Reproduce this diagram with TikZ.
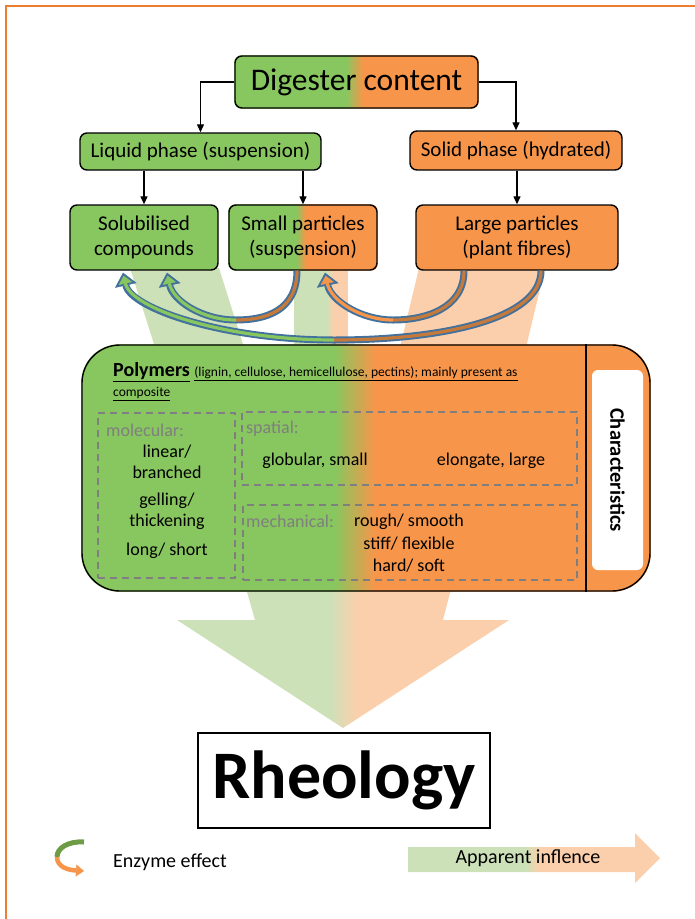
\documentclass[tikz,border=0pt]{standalone}
\usepackage{fontspec}
\setmainfont{Carlito}
\usetikzlibrary{arrows.meta,calc}
\pgfdeclarelayer{bands}
\pgfdeclarelayer{fills}
\pgfsetlayers{bands,fills,main}
\definecolor{gC}{HTML}{88C65F}
\definecolor{oC}{HTML}{F7964A}
\definecolor{lgC}{HTML}{CDE1B9}
\definecolor{lpC}{HTML}{FBCFAC}
\definecolor{blC}{HTML}{41719C}
\definecolor{brC}{HTML}{C5793A}
\definecolor{frC}{HTML}{ED7D31}
\definecolor{dashC}{HTML}{7F7F7F}
\definecolor{legG}{HTML}{6E9B45}
\newcommand\mygradfill[6]{%
  \begin{scope}
    \clip[rounded corners=#2] (#1.south west) rectangle (#1.north east);
    \fill[#5] (0,0) rectangle (#3,919);
    \shade[left color=#5,right color=#6] (#3,0) rectangle (#4,919);
    \fill[#6] (#4,0) rectangle (695,919);
  \end{scope}}
\begin{document}
\begin{tikzpicture}[x=1pt,y=-1pt,
  box/.style={draw=black, line width=1.4pt, rounded corners=7pt, align=center, inner sep=0pt, text=black},
  f21/.style={font=\fontsize{21}{25}\selectfont},
  dashbox/.style={draw=dashC, line width=2pt, dash pattern=on 7pt off 5pt, inner sep=0pt},
  lbl/.style={font=\fontsize{18}{21.5}\selectfont, align=center, inner sep=0pt},
  glbl/.style={lbl, text=dashC, anchor=west},
  tree/.style={draw=black, line width=1.3pt, -{Triangle[length=8pt,width=7pt]}},
  outerA/.style={draw=blC, line width=7pt, -{Triangle[width=22pt,length=13pt,line width=0.4pt]}},
  innerHead/.style={line width=3.2pt, shorten >=3.1pt, -{Triangle[width=13.4pt,length=7.9pt,line width=0.4pt]}},
  innerTail/.style={line width=3.2pt},
]
\useasboundingbox (0,0) rectangle (695,919);

% frame
\draw[frC, line width=2.5pt] (6,919) -- (6,6) -- (695,6);

% boxes
\node[box, minimum width=243pt, minimum height=52pt, font=\fontsize{31.5}{36}\selectfont] (dig) at (356.5,82) {Digester content};
\node[box, fill=gC, minimum width=241pt, minimum height=37pt, f21] (liq) at (200.5,151.5) {Liquid phase (suspension)};
\node[box, fill=oC, minimum width=212pt, minimum height=39pt, f21] (sol) at (516,150.5) {Solid phase (hydrated)};
\node[box, fill=gC, minimum width=148pt, minimum height=65pt, f21] (solub) at (144,237.5) {Solubilised\\compounds};
\node[box, minimum width=148pt, minimum height=65pt, f21] (small) at (303,237.5) {Small particles\\(suspension)};
\node[box, fill=oC, minimum width=202pt, minimum height=65pt, f21] (large) at (517,237.5) {Large particles\\(plant fibres)};

% polymer box
\node[box, rounded corners=38pt, minimum width=568pt, minimum height=246pt] (poly) at (366,468) {};
\coordinate (dv) at (586,468);
\draw[line width=1.4pt] (dv |- poly.north) -- (dv |- poly.south);
\node[fill=white, rounded corners=6pt, rotate=-90, minimum width=200pt, minimum height=51pt, inner sep=0pt, font=\bfseries\fontsize{20.5}{24}\selectfont] (chr) at (617.5,470) {Characteristics};

\node[anchor=west, inner sep=0pt, font=\fontsize{20}{24}\selectfont] (polyt) at (113,372) {\underline{\textbf{Polymers}} {\fontsize{13.5}{16}\selectfont\underline{(lignin, cellulose, hemicellulose, pectins); mainly present as}}};
\node[anchor=west, inner sep=0pt, font=\fontsize{13.5}{16}\selectfont] (polyt2) at (113,394) {\underline{composite}};

\node[dashbox, minimum width=137pt, minimum height=165pt] (mol) at (166.5,495.5) {};
\node[dashbox, minimum width=335pt, minimum height=73pt] (spa) at (409.5,448.5) {};
\node[dashbox, minimum width=334pt, minimum height=75pt] (mech) at (410,542.5) {};

\node[glbl] (molL) at (106,430) {molecular:};
\node[lbl] (m1) at (167,462) {linear/\\branched};
\node[lbl] (m2) at (167,511.5) {gelling/\\thickening};
\node[lbl] (m3) at (167,551) {long/ short};
\node[glbl] (spL) at (246,429) {spatial:};
\node[lbl] (sp1) at (315,461) {globular, small};
\node[lbl] (sp2) at (491,461) {elongate, large};
\node[glbl] (meL) at (246,521) {mechanical:};
\node[lbl, font=\fontsize{18}{22.5}\selectfont] (me1) at (409,543.5) {rough/ smooth\\stiff/ flexible\\hard/ soft};

% Rheology
\node[draw=black, line width=2pt, minimum width=292pt, minimum height=95pt, inner sep=0pt, font=\bfseries\fontsize{68}{80}\selectfont] (rheo) at (344,780.5) {Rheology};

% tree connectors
\draw[tree] (dig.west) -| (liq.north);
\draw[tree] (dig.east) -| (sol.north);
\draw[tree] (liq.south -| solub.north) -- (solub.north);
\draw[tree] (liq.south -| small.north) -- (small.north);
\draw[tree] (sol.south -| large.north) -- (large.north);

% gradient fills
\begin{pgfonlayer}{fills}
\mygradfill{dig}{7pt}{346}{363}{gC}{oC}
\mygradfill{small}{7pt}{296}{306}{gC}{oC}
\mygradfill{poly}{38pt}{335}{375}{gC}{oC}
\end{pgfonlayer}

% background influence arrow
\begin{pgfonlayer}{bands}
\fill[lgC] (130,268) -- (219,268) -- (248,360) -- (159,360) -- cycle;
\fill[lpC] (419,268) -- (545,268) -- (523,360) -- (397,360) -- cycle;
\fill[lgC] (294,268) rectangle (326,360);
\shade[left color=lgC,right color=lpC] (326,268) rectangle (334,360);
\fill[lpC] (334,268) rectangle (348,360);
\begin{scope}
\clip (245,585) -- (255,620) -- (177,620) -- (343,728) -- (509,620) -- (443,620) -- (452,585) -- cycle;
\fill[lgC] (0,0) rectangle (330,919);
\shade[left color=lgC,right color=lpC] (330,0) rectangle (357,919);
\fill[lpC] (357,0) rectangle (695,919);
\end{scope}
\end{pgfonlayer}

% enzyme-effect curved arrows
\coordinate (bA) at (236,320);
\coordinate (bB) at (334,340);
\coordinate (bC) at (393,320);
% A: small -> solub
\draw[outerA] ([xshift=-6pt]small.south) .. controls +(0,40) and +(30,0) .. (bA) .. controls +(-34,0) and +(6,28) .. ([xshift=23pt,yshift=-2pt]solub.south);
\draw[innerTail, brC] ([xshift=-6pt]small.south) .. controls +(0,40) and +(30,0) .. (bA);
\draw[innerHead, gC] (bA) .. controls +(-34,0) and +(6,28) .. ([xshift=23pt,yshift=-2pt]solub.south);
% B: large -> solub
\draw[outerA] ([xshift=24pt]large.south) .. controls +(0,48) and +(110,0) .. (bB) .. controls +(-110,0) and +(8,36) .. ([xshift=-21pt,yshift=-2pt]solub.south);
\draw[innerTail, brC] ([xshift=24pt]large.south) .. controls +(0,48) and +(110,0) .. (bB);
\draw[innerHead, gC] (bB) .. controls +(-110,0) and +(8,36) .. ([xshift=-21pt,yshift=-2pt]solub.south);
% C: large -> small
\draw[outerA] ([xshift=-53pt]large.south) .. controls +(0,38) and +(32,0) .. (bC) .. controls +(-32,0) and +(6,28) .. ([xshift=22pt,yshift=-2pt]small.south);
\draw[innerTail, brC] ([xshift=-53pt]large.south) .. controls +(0,38) and +(32,0) .. (bC);
\draw[innerHead, oC] (bC) .. controls +(-32,0) and +(6,28) .. ([xshift=22pt,yshift=-2pt]small.south);

% legend
\draw[legG, line width=5pt] (84,842) .. controls (68,841) and (57,848) .. (57,857);
\draw[oC, line width=4.5pt, -{Triangle[width=12pt,length=8pt,line width=0.4pt]}] (57,857) .. controls (57,867) and (68,870) .. (84,871);
\node[anchor=west, font=\fontsize{20}{24}\selectfont, inner sep=0pt] (enz) at (113,862) {Enzyme effect};

\begin{scope}
\clip (408,847) -- (635,847) -- (635,833) -- (660,858) -- (635,883) -- (635,872) -- (408,872) -- cycle;
\fill[lgC] (400,820) rectangle (525,890);
\shade[left color=lgC,right color=lpC] (525,820) rectangle (540,890);
\fill[lpC] (540,820) rectangle (670,890);
\end{scope}
\node[font=\fontsize{20}{24}\selectfont, inner sep=0pt] (app) at (528,858) {Apparent inflence};
\end{tikzpicture}
\end{document}
